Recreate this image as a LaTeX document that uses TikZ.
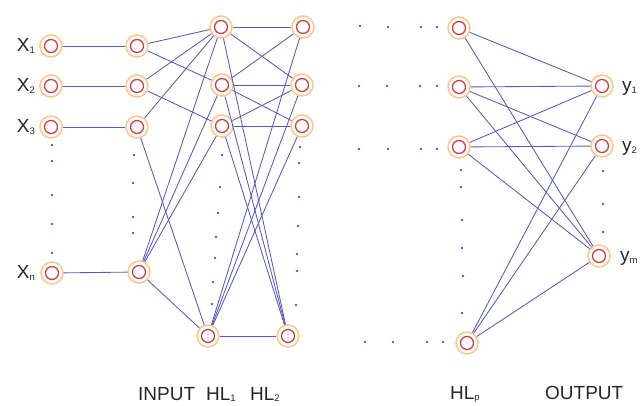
\documentclass[tikz,border=0pt]{standalone}
\usepackage{fontspec}
\setmainfont{Liberation Sans}
\definecolor{ringc}{RGB}{247,200,135}
\definecolor{redc}{RGB}{208,64,72}
\definecolor{linec}{RGB}{88,88,190}
\newcommand{\lsub}[1]{\raisebox{-1.2pt}{\fontsize{9.5}{9.5}\selectfont #1}}
\begin{document}
\begin{tikzpicture}[x=1pt,y=-1pt,
  neuron/.style={circle, draw=ringc, fill=white, line width=1.5pt, minimum size=22pt, inner sep=0pt,
    path picture={\draw[redc, line width=1.3pt] (path picture bounding box.center) circle (6.5pt);}},
  conn/.style={draw=linec, line width=0.85pt},
  lbl/.style={font=\fontsize{19}{19}\selectfont, text=black!85, inner sep=0pt},
  dotc/.style={fill=linec}]
\useasboundingbox (0,0) rectangle (643,406);
% nodes
\node[neuron] (x1) at (51,46) {};
\node[neuron] (x2) at (51,86) {};
\node[neuron] (x3) at (51,127) {};
\node[neuron] (xn) at (52,273) {};
\node[neuron] (i1) at (137,46) {};
\node[neuron] (i2) at (137,86) {};
\node[neuron] (i3) at (137,127) {};
\node[neuron] (in) at (139,272) {};
\node[neuron] (h1) at (221,27) {};
\node[neuron] (h2) at (222,85) {};
\node[neuron] (h3) at (222,126) {};
\node[neuron] (hb) at (208,336) {};
\node[neuron] (g1) at (303,27) {};
\node[neuron] (g2) at (302,85) {};
\node[neuron] (g3) at (302,126) {};
\node[neuron] (gb) at (288,336) {};
\node[neuron] (p1) at (459,28) {};
\node[neuron] (p2) at (459,87) {};
\node[neuron] (p3) at (459,147) {};
\node[neuron] (pb) at (467,343) {};
\node[neuron] (o1) at (602,86) {};
\node[neuron] (o2) at (602,146) {};
\node[neuron] (om) at (599,256) {};
% labels
\node[lbl, anchor=base east] (lx1) at (35,52) {X\lsub{1}};
\node[lbl, anchor=base east] (lx2) at (35,92) {X\lsub{2}};
\node[lbl, anchor=base east] (lx3) at (35,133) {X\lsub{3}};
\node[lbl, anchor=base east] (lxn) at (35,279) {X\lsub{n}};
\node[lbl, anchor=base west] (ly1) at (622,92) {y\lsub{1}};
\node[lbl, anchor=base west] (ly2) at (622,152) {y\lsub{2}};
\node[lbl, anchor=base west] (lym) at (620,262) {y\lsub{m}};
\node[lbl, anchor=base west] (lin) at (138,400) {INPUT};
\node[lbl, anchor=base west] (lh1) at (206,400) {HL\lsub{1}};
\node[lbl, anchor=base west] (lh2) at (250,400) {HL\lsub{2}};
\node[lbl, anchor=base west] (lhp) at (450,399) {HL\lsub{p}};
\node[lbl, anchor=base west] (lout) at (545,399) {OUTPUT};
% connectors
\foreach \a/\b in {x1/i1,x2/i2,x3/i3,xn/in,
  i1/h1,i1/h2,i2/h1,i2/h3,i3/h1,i3/hb,in/h1,in/h2,in/h3,in/hb,
  h1/g1,h1/g2,h2/g1,h2/g2,h2/g3,h3/g2,h3/g3,hb/gb,
  h1/gb,h2/gb,h3/gb,g1/hb,g2/hb,g3/hb,
  p1/o1,p1/om,p2/o1,p2/o2,p2/om,p3/o1,p3/o2,p3/om,pb/o1,pb/o2,pb/om}
  \path[conn] (\a) -- (\b);
% dots
\foreach \x/\y in {52/145,52/161,52/195,52/224,52/253,
  134/155,133/183,133/217,133/233,
  222/155,220/187,218/213,216/237,215/258,213/282,212/304,
  300/147,299/163,299/197,298/226,297/254,297/271,296/305,
  461/170,461/187,462/220,462/248,463/276,462/313,
  603/171,603/204,603/232,
  360/26,388/27,421/27,437/27,
  359/86,387/86,420/86,437/86,
  359/149,388/149,421/149,437/149,
  365/342,393/342,427/342,443/342}
  \fill[dotc] (\x,\y) circle (1.4pt);
\end{tikzpicture}
\end{document}
